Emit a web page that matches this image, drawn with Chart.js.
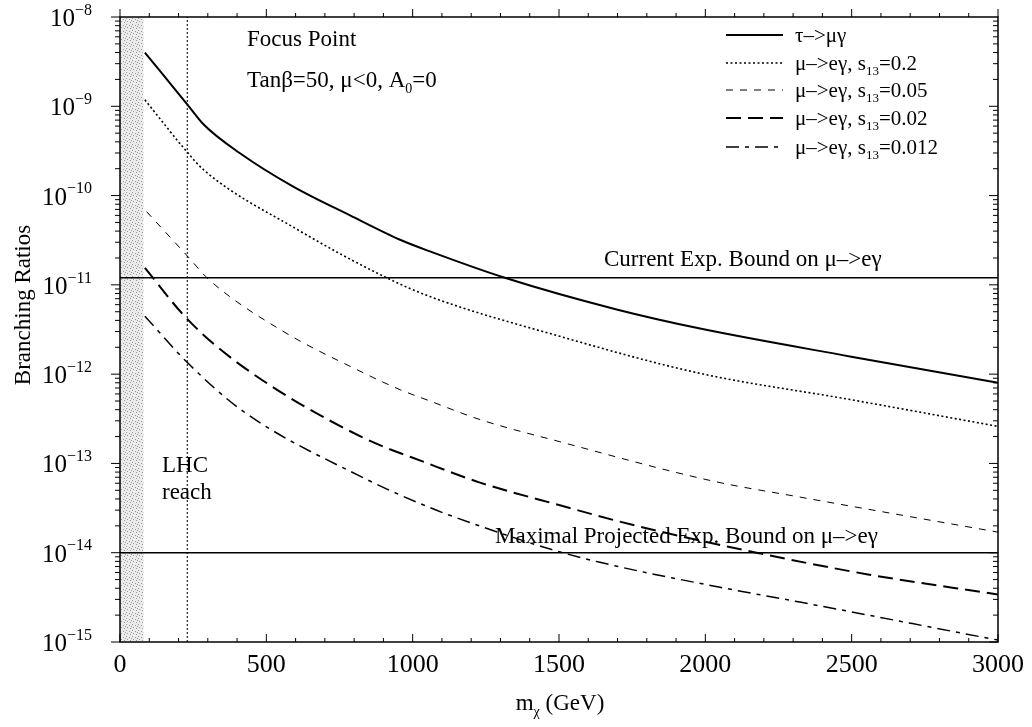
<!DOCTYPE html>
<html>
<head>
<meta charset="utf-8">
<script src="https://cdn.jsdelivr.net/npm/chart.js@4"></script>
<style>
  body { margin: 0; background: #fff; }
  canvas { display: block; }
</style>
</head>
<body>
<canvas id="lfv" width="1032" height="727"></canvas>
<script>
// masses (GeV) and branching ratios
var massTau = [85, 231, 285, 410, 592, 786, 957, 1059, 1315, 1697, 1982, 2494, 3000];
var brTau = [4.0e-9, 1.04e-9, 6.3e-10, 2.98e-10, 1.26e-10, 6.0e-11, 3.2e-11, 2.37e-11, 1.2e-11, 5.3e-12, 3.24e-12, 1.58e-12, 8.0e-13];

var massS02 = [85, 231, 285, 604, 900, 1059, 1503, 1982, 2494, 3000];
var brS02 = [1.18e-9, 3.03e-10, 1.95e-10, 4.2e-11, 1.25e-11, 7.4e-12, 2.65e-12, 1.02e-12, 5.2e-13, 2.6e-13];

var massS005 = [91, 231, 302, 547, 820, 957, 1059, 1230, 1503, 2030, 2323, 3000];
var brS005 = [6.6e-11, 2.09e-11, 1.16e-11, 3.16e-12, 1.08e-12, 6.7e-13, 5.0e-13, 3.1e-13, 1.75e-13, 6.3e-14, 4.2e-14, 1.7e-14];

var massS002 = [85, 231, 410, 820, 1059, 1230, 1503, 1754, 2175, 2551, 3000];
var brS002 = [1.55e-11, 4.1e-12, 1.28e-12, 2.02e-13, 9.8e-14, 6.1e-14, 3.4e-14, 2.04e-14, 1.0e-14, 5.75e-15, 3.4e-15];

var massS0012 = [85, 231, 420, 820, 1059, 1230, 1469, 1640, 2050, 2323, 3000];
var brS0012 = [4.45e-12, 1.34e-12, 3.85e-13, 7.2e-14, 3.2e-14, 1.99e-14, 1.1e-14, 7.8e-15, 4.1e-15, 2.8e-15, 1.05e-15];

var currentBound = 1.2e-11;
var projectedBound = 1.0e-14;
var lhcReach = 230;
var excludedMax = 80;

var xTicks = [0, 500, 1000, 1500, 2000, 2500, 3000];
var yExponents = [-8, -9, -10, -11, -12, -13, -14, -15];

var seriesNames = ["τ–>μγ", "μ–>eγ, s", "μ–>eγ, s", "μ–>eγ, s", "μ–>eγ, s"];
var seriesS13 = ["", "0.2", "0.05", "0.02", "0.012"];

var SERIF = "'Liberation Serif', 'DejaVu Serif', serif";
Chart.defaults.font.family = SERIF;

function pts(xs, ys) {
    var out = [];
    for (var i = 0; i < xs.length; i++) out.push({ x: xs[i], y: ys[i] });
    return out;
}

var styles = [
    { w: 2.0, dash: [] },
    { w: 1.6, dash: [2, 2.5] },
    { w: 1.0, dash: [7, 7] },
    { w: 2.0, dash: [15, 7] },
    { w: 1.5, dash: [13, 6, 4, 6] }
];

function curve(data, s) {
    return {
        data: data,
        borderColor: '#000',
        borderWidth: s.w,
        borderDash: s.dash,
        pointRadius: 0,
        fill: false,
        cubicInterpolationMode: 'monotone'
    };
}

var datasets = [
    curve(pts(massTau, brTau), styles[0]),
    curve(pts(massS02, brS02), styles[1]),
    curve(pts(massS005, brS005), styles[2]),
    curve(pts(massS002, brS002), styles[3]),
    curve(pts(massS0012, brS0012), styles[4]),
    { data: [{ x: 0, y: currentBound }, { x: 3000, y: currentBound }], borderColor: '#000', borderWidth: 1.6, pointRadius: 0 },
    { data: [{ x: 0, y: projectedBound }, { x: 3000, y: projectedBound }], borderColor: '#000', borderWidth: 1.6, pointRadius: 0 },
    { data: [{ x: lhcReach, y: 1e-15 }, { x: lhcReach, y: 1e-8 }], borderColor: '#222', borderWidth: 1.2, borderDash: [2, 2], pointRadius: 0 }
];

// stipple for the excluded band
function stipple(ctx) {
    var c = document.createElement('canvas');
    c.width = 6; c.height = 6;
    var g = c.getContext('2d');
    g.fillStyle = '#ebebeb';
    g.fillRect(0, 0, 6, 6);
    g.fillStyle = '#9a9a9a';
    [[0, 0], [3, 1], [1, 3], [4, 4], [5, 2]].forEach(function(p) { g.fillRect(p[0], p[1], 1, 1); });
    return ctx.createPattern(c, 'repeat');
}

// text with sub/superscripts: parts = [[text, mode]] mode: 0 normal, 1 sub, 2 sup
function rich(ctx, parts, x, y, size, align) {
    var small = Math.round(size * 0.62);
    var total = 0;
    parts.forEach(function(p) {
        ctx.font = (p[1] ? small : size) + 'px ' + SERIF;
        total += ctx.measureText(p[0]).width;
    });
    var cx = x;
    if (align === 'right') cx = x - total;
    if (align === 'center') cx = x - total / 2;
    ctx.textAlign = 'left';
    ctx.textBaseline = 'alphabetic';
    parts.forEach(function(p) {
        ctx.font = (p[1] ? small : size) + 'px ' + SERIF;
        var dy = p[1] === 1 ? size * 0.25 : (p[1] === 2 ? -size * 0.45 : 0);
        ctx.fillText(p[0], cx, y + dy);
        cx += ctx.measureText(p[0]).width;
    });
}

var decor = {
    id: 'decor',
    beforeDatasetsDraw: function(chart) {
        var ctx = chart.ctx, a = chart.chartArea, x = chart.scales.x;
        var x0 = x.getPixelForValue(0), x1 = x.getPixelForValue(excludedMax);
        ctx.save();
        ctx.fillStyle = stipple(ctx);
        ctx.fillRect(x0, a.top, x1 - x0, a.bottom - a.top);
        ctx.restore();
    },
    afterDraw: function(chart) {
        var ctx = chart.ctx, a = chart.chartArea, xs = chart.scales.x, ys = chart.scales.y;
        ctx.save();
        ctx.strokeStyle = '#000';
        ctx.fillStyle = '#000';
        ctx.lineWidth = 1.5;
        ctx.strokeRect(a.left, a.top, a.right - a.left, a.bottom - a.top);

        // ticks
        ctx.lineWidth = 1;
        ctx.beginPath();
        for (var v = 0; v <= 3000; v += 100) {
            var px = xs.getPixelForValue(v);
            var len = v % 500 === 0 ? 8 : 4;
            ctx.moveTo(px, a.bottom); ctx.lineTo(px, a.bottom - len);
            ctx.moveTo(px, a.top); ctx.lineTo(px, a.top - len);
        }
        for (var e = -15; e < -8; e++) {
            for (var m = 1; m <= 9; m++) {
                var py = ys.getPixelForValue(m * Math.pow(10, e));
                var l = m === 1 ? 9 : 5;
                ctx.moveTo(a.left, py); ctx.lineTo(a.left - l, py);
                ctx.moveTo(a.right, py); ctx.lineTo(a.right - l, py);
            }
        }
        var pyTop = ys.getPixelForValue(1e-8);
        ctx.moveTo(a.left, pyTop); ctx.lineTo(a.left - 9, pyTop);
        ctx.stroke();

        // y tick labels
        yExponents.forEach(function(ex) {
            var py = ys.getPixelForValue(Math.pow(10, ex));
            rich(ctx, [['10', 0], ['−' + (-ex), 2]], 92, py + 9, 25, 'right');
        });

        // axis titles
        ctx.save();
        ctx.translate(30, 305);
        ctx.rotate(-Math.PI / 2);
        rich(ctx, [['Branching Ratios', 0]], 0, 0, 23, 'center');
        ctx.restore();
        rich(ctx, [['m', 0], ['χ', 1], [' (GeV)', 0]], 560, 710, 23, 'center');

        // annotations
        rich(ctx, [['Focus Point', 0]], 247, 46, 23, 'left');
        rich(ctx, [['Tanβ=50, μ<0, A', 0], ['0', 1], ['=0', 0]], 247, 87, 23, 'left');
        rich(ctx, [['LHC', 0]], 162, 472, 23, 'left');
        rich(ctx, [['reach', 0]], 162, 499, 23, 'left');
        rich(ctx, [['Current Exp. Bound on μ–>eγ', 0]], 604, 266, 23, 'left');
        rich(ctx, [['Maximal Projected Exp. Bound on μ–>eγ', 0]], 495, 543, 23, 'left');

        // legend
        var rows = [35, 63, 90, 118, 147];
        for (var i = 0; i < 5; i++) {
            ctx.save();
            ctx.lineWidth = styles[i].w;
            ctx.setLineDash(styles[i].dash);
            ctx.beginPath();
            ctx.moveTo(726, rows[i]);
            ctx.lineTo(783, rows[i]);
            ctx.stroke();
            ctx.restore();
            var parts = [[seriesNames[i], 0]];
            if (seriesS13[i]) { parts.push(['13', 1]); parts.push(['=' + seriesS13[i], 0]); }
            rich(ctx, parts, 795, rows[i] + 7, 21, 'left');
        }
        ctx.restore();
    }
};

new Chart(document.getElementById('lfv'), {
    type: 'line',
    data: { datasets: datasets },
    options: {
        responsive: false,
        animation: false,
        layout: { padding: { top: 17, right: 34, left: 0, bottom: 0 } },
        plugins: { legend: { display: false }, tooltip: { enabled: false } },
        scales: {
            x: {
                type: 'linear', min: 0, max: 3000,
                grid: { display: false, drawTicks: false },
                border: { display: false },
                afterBuildTicks: function(s) { s.ticks = xTicks.map(function(v) { return { value: v }; }); },
                ticks: {
                    color: '#000', font: { size: 26, family: SERIF }, padding: 8, maxRotation: 0,
                    callback: function(v) { return String(v); }
                },
                afterFit: function(s) { s.height = 85; }
            },
            y: {
                type: 'logarithmic', min: 1e-15, max: 1e-8,
                grid: { display: false, drawTicks: false },
                border: { display: false },
                ticks: { display: false },
                afterFit: function(s) { s.width = 120; }
            }
        }
    },
    plugins: [decor]
});
</script>
</body>
</html>
